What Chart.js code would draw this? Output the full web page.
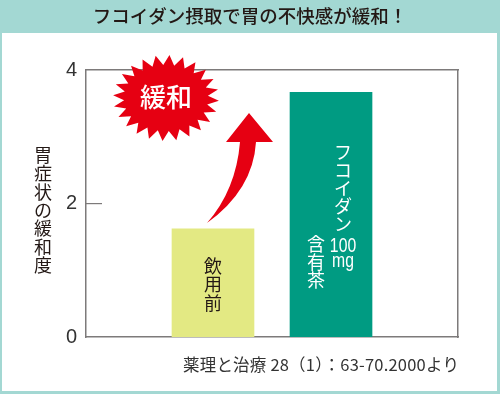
<!DOCTYPE html>
<html>
<head>
<meta charset="utf-8">
<style>
  html, body { margin: 0; padding: 0; background: #a3d8d3; }
  #wrap { width: 500px; height: 394px; }
</style>
<script src="https://cdn.jsdelivr.net/npm/chart.js@4/dist/chart.umd.min.js"></script>
</head>
<body>
<div id="wrap"><canvas id="myChart" width="500" height="394"></canvas></div>
<script>
const chartTitle = 'フコイダン摂取で胃の不快感が緩和！';
const yAxisTitle = '胃症状の緩和度';
const sourceNote = '薬理と治療 28（1）：63-70.2000より';
const badgeText = '緩和';
const barPositions = [1, 2];
const barValues = [1.62, 3.67];
const barColors = ['#e3e983', '#009b82'];
const yTicks = [0, 2, 4];

const JP = '"Noto Sans CJK JP", "Noto Sans", sans-serif';

// 縦書き 1文字ずつ
function vtext(c, chars, x, y, step) {
  for (let i = 0; i < chars.length; i++) {
    c.fillText(chars[i], x, y + i * step);
  }
}

const background = {
  id: 'background',
  beforeDraw(chart) {
    const c = chart.ctx;
    c.save();
    c.fillStyle = '#a3d8d3';
    c.fillRect(0, 0, 500, 394);
    c.fillStyle = '#ffffff';
    c.fillRect(2, 33, 495, 358);
    c.restore();
  },
};

const decorations = {
  id: 'decorations',
  afterDatasetsDraw(chart) {
    const c = chart.ctx;
    const x = chart.scales.x;
    const y = chart.scales.y;
    c.save();

    // 2 の目盛 (内向き)
    c.strokeStyle = '#7d7a7a';
    c.lineWidth = 1.2;
    c.beginPath();
    c.moveTo(x.left, y.getPixelForValue(2));
    c.lineTo(x.left + 16, y.getPixelForValue(2));
    c.stroke();

    // 星
    const cx = 166, cy = 98, n = 24;
    c.fillStyle = '#e60012';
    c.beginPath();
    for (let i = 0; i < n * 2; i++) {
      const a = (i / (n * 2)) * Math.PI * 2 - Math.PI / 2 + Math.PI / n / 2;
      const rx = i % 2 ? 42 : 53;
      const ry = i % 2 ? 33 : 43;
      c.lineTo(cx + Math.cos(a) * rx, cy + Math.sin(a) * ry);
    }
    c.closePath();
    c.fill();

    // 矢印
    c.beginPath();
    c.moveTo(249, 113);
    c.lineTo(273, 142);
    c.lineTo(256, 142);
    c.quadraticCurveTo(253, 190, 207, 223);
    c.quadraticCurveTo(236, 190, 240, 142);
    c.lineTo(226, 142);
    c.closePath();
    c.fill();

    c.textAlign = 'center';
    c.textBaseline = 'middle';

    c.fillStyle = '#ffffff';
    c.font = '500 26px ' + JP;
    c.fillText(badgeText, cx, 97);

    // 棒の中の文字
    const x1 = x.getPixelForValue(barPositions[0]);
    const x2 = x.getPixelForValue(barPositions[1]);
    c.fillStyle = '#231815';
    c.font = '18px ' + JP;
    vtext(c, '飲用前', x1, 266, 18.5);

    c.fillStyle = '#ffffff';
    c.font = '18px ' + JP;
    vtext(c, 'フコイダン', x2 + 12, 152, 18);
    vtext(c, '含有茶', x2 - 15, 244, 18);
    c.font = '21px "Liberation Sans", sans-serif';
    c.save();
    c.translate(x2 + 12, 246);
    c.scale(0.75, 1);
    c.fillText('100', 0, 0);
    c.fillText('mg', 0, 15);
    c.restore();

    // 縦軸タイトル
    c.fillStyle = '#231815';
    c.font = '18px ' + JP;
    vtext(c, yAxisTitle, 43, 155, 18.4);

    // 出典
    c.fillStyle = '#333333';
    c.textAlign = 'left';
    c.font = '16.5px ' + JP;
    c.letterSpacing = '0.2px';
    c.fillText(sourceNote, 183, 365);
    c.restore();
  },
};

new Chart(document.getElementById('myChart').getContext('2d'), {
  type: 'bar',
  data: {
    datasets: [
      {
        data: barPositions.map((p, i) => ({ x: p, y: barValues[i] })),
        backgroundColor: barColors,
        barThickness: 82,
      },
    ],
  },
  plugins: [background, decorations],
  options: {
    responsive: false,
    animation: false,
    layout: { padding: { left: 0, right: 0, bottom: 49, top: 0 } },
    plugins: {
      legend: { display: false },
      tooltip: { enabled: false },
      title: {
        display: true,
        text: chartTitle,
        color: '#231815',
        font: { family: JP, size: 18.5, weight: '500' },
        padding: { top: 5, bottom: 35 },
      },
    },
    scales: {
      x: {
        type: 'linear',
        offset: false,
        min: -0.076,
        max: 3.076,
        ticks: { display: false },
        grid: { display: false },
        border: { color: '#7d7a7a', width: 1.5 },
      },
      y: {
        min: 0,
        max: 4,
        afterBuildTicks(axis) {
          axis.ticks = yTicks.map((v) => ({ value: v }));
        },
        afterFit(axis) {
          axis.width = 86;
        },
        ticks: {
          color: '#333333',
          padding: 1,
          font: { family: '"Liberation Sans", sans-serif', size: 20 },
        },
        grid: { display: false },
        border: { color: '#7d7a7a', width: 1.5 },
      },
      x2: {
        type: 'linear',
        position: 'top',
        display: true,
        ticks: { display: false },
        grid: { display: false },
        border: { color: '#7d7a7a', width: 1.5 },
      },
      y2: {
        position: 'right',
        display: true,
        afterFit(axis) {
          axis.width = 42;
        },
        ticks: { display: false },
        grid: { display: false },
        border: { color: '#7d7a7a', width: 1.5 },
      },
    },
  },
});
</script>
</body>
</html>
